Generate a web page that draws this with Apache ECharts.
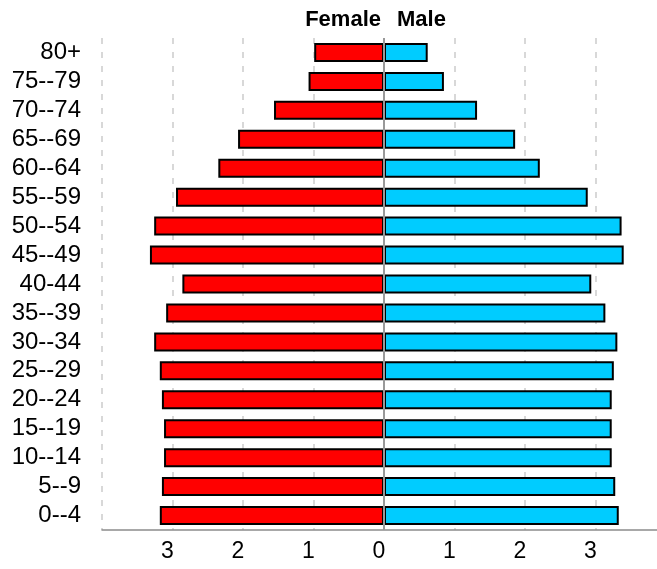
<!DOCTYPE html>
<html>
<head>
<meta charset="utf-8">
<script src="https://cdn.jsdelivr.net/npm/echarts@6/dist/echarts.min.js"></script>
<style>
    html, body { margin: 0; padding: 0; background: #fff; }
    #container { width: 657px; height: 569px; }
</style>
</head>
<body>
<div id="container"></div>
<script type="text/javascript">
    // age groups, top to bottom
    var ageGroups = ['80+', '75--79', '70--74', '65--69', '60--64', '55--59', '50--54', '45--49',
        '40-44', '35--39', '30--34', '25--29', '20--24', '15--19', '10--14', '5--9', '0--4'];
    // percent of population
    var female = [0.99, 1.07, 1.56, 2.07, 2.35, 2.95, 3.26, 3.32, 2.86, 3.09, 3.26, 3.18, 3.15, 3.12, 3.12, 3.15, 3.18];
    var male = [0.62, 0.85, 1.32, 1.86, 2.21, 2.89, 3.37, 3.40, 2.94, 3.14, 3.31, 3.26, 3.23, 3.23, 3.23, 3.28, 3.33];
    var xTicks = [-4, -3, -2, -1, 0, 1, 2, 3, 4];

    var fontName = '"Liberation Sans", Arial, sans-serif';
    var dom = document.getElementById('container');
    var myChart = echarts.init(dom);

    var option = {
        animation: false,
        graphic: [{
            type: 'text', x: 381, y: 20,
            style: { text: 'Female', font: 'bold 22px ' + fontName, fill: '#000', textAlign: 'right', textVerticalAlign: 'middle' }
        }, {
            type: 'text', x: 397, y: 20,
            style: { text: 'Male', font: 'bold 22px ' + fontName, fill: '#000', textAlign: 'left', textVerticalAlign: 'middle' }
        }],
        grid: {
            left: 102,
            top: 38,
            width: 564,
            height: 492,
            outerBoundsMode: 'none'
        },
        xAxis: {
            type: 'value',
            min: xTicks[0],
            max: xTicks[xTicks.length - 1],
            interval: 1,
            axisLine: { show: true, onZero: false, lineStyle: { color: '#8c8c8c', width: 1.5 } },
            axisTick: { show: false },
            splitLine: { show: true, lineStyle: { color: '#cccccc', width: 1.5, type: [6, 8] } },
            axisLabel: {
                color: '#000',
                fontSize: 23,
                fontFamily: fontName,
                margin: 10,
                padding: [0, 10, 0, 0],
                formatter: function (v) {
                    if (Math.abs(v) >= 4) return '';
                    return String(Math.abs(v));
                }
            }
        },
        yAxis: {
            type: 'category',
            data: ageGroups,
            inverse: true,
            axisLine: { show: false },
            axisTick: { show: false },
            splitLine: { show: false },
            axisLabel: { color: '#000', fontSize: 24, fontFamily: fontName, margin: 21, interval: 0 }
        },
        series: [{
            name: 'Female',
            type: 'bar',
            stack: 'pop',
            barWidth: 19,
            data: female.map(function (v) { return -v; }),
            itemStyle: { color: '#ff0000', borderColor: '#000', borderWidth: 2 }
        }, {
            name: 'Male',
            type: 'bar',
            stack: 'pop',
            barWidth: 19,
            data: male,
            itemStyle: { color: '#00ccff', borderColor: '#000', borderWidth: 2 },
            markLine: {
                silent: true,
                symbol: ['none', 'none'],
                label: { show: false },
                lineStyle: { color: '#999999', width: 2, type: 'solid' },
                data: [{ xAxis: 0 }]
            }
        }]
    };

    myChart.setOption(option);
</script>
</body>
</html>
